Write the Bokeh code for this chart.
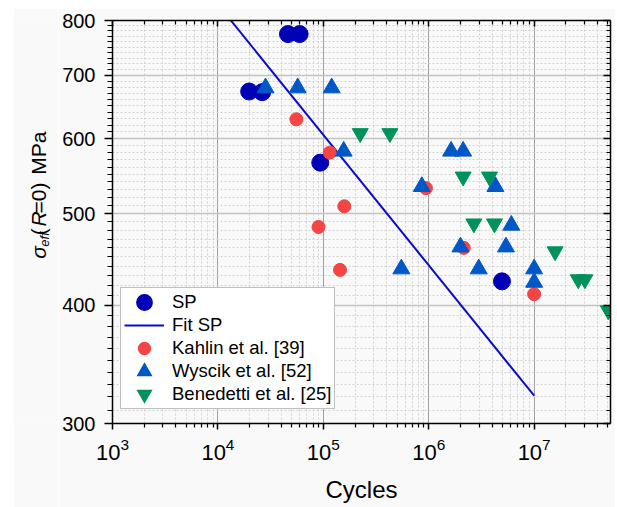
import math
from bokeh.plotting import figure
from bokeh.layouts import row, column
from bokeh.models import (LogAxis, FixedTicker, BasicTickFormatter, LogTickFormatter,
                          Legend, LegendItem, Label, Range1d, Spacer)
from bokeh.embed import file_html
from bokeh.resources import INLINE

# ---------------- data ----------------
sp_cycles = [4.62e4, 5.96e4, 1.98e4, 2.63e4, 9.35e4, 4.95e6]
sp_stress = [774, 774, 673, 672, 566, 424]

fit_cycles = [1.0e4, 1.0e7]
fit_stress = [832, 321]

kahlin_cycles = [5.55e4, 1.15e5, 9.4e5, 1.58e5, 9.0e4, 2.15e6, 1.44e5, 1.0e7]
kahlin_stress = [629, 580, 532, 509, 484, 460, 436, 411]

wyscik_cycles = [2.83e4, 5.71e4, 1.2e5, 1.56e5, 1.63e6, 2.12e6, 8.6e5, 4.29e6,
                 6.08e6, 2.0e6, 5.4e6, 5.5e5, 2.98e6, 1.0e7, 1.0e7]
wyscik_stress = [679, 679, 679, 582, 582, 582, 534, 534,
                 486, 461, 461, 437, 437, 437, 423]

benedetti_cycles = [2.24e5, 4.28e5, 2.12e6, 3.77e6, 2.68e6, 4.2e6, 1.58e7, 2.62e7, 3.03e7, 5.05e7]
benedetti_stress = [608, 608, 547, 547, 488, 488, 456, 426, 426, 395]

x_major_ticks = [1e3, 1e4, 1e5, 1e6, 1e7]
x_minor_ticks = [m * 10 ** e for e in range(3, 8) for m in range(2, 10)]
y_major_ticks = [300, 400, 500, 600, 700, 800]
y_minor_ticks = [v for v in range(310, 800, 10) if v % 100 != 0]

legend_labels = ["SP", "Fit SP", "Kahlin et al. [39]", "Wyscik et al. [52]", "Benedetti et al. [25]"]

# ---------------- style ----------------
FONT = "Liberation Sans"
BG = "#f9f9f9"
C_SP = "#0000b4"
C_FIT = "#0c0cc4"
C_KAH = "#f44444"
C_WYS = "#0058c8"
C_BEN = "#00925a"

H = 499  # figure heights (8 px white strip on top)

p = figure(width=557, height=H, x_axis_type="log", y_axis_type="log",
           x_range=Range1d(1e3, 5.3e7), y_range=Range1d(300, 800),
           output_backend="svg", toolbar_location=None,
           min_border_left=54, min_border_right=5, min_border_top=12, min_border_bottom=84,
           background_fill_color=BG, border_fill_color=BG, outline_line_color=None)

xt = FixedTicker(ticks=x_major_ticks, minor_ticks=x_minor_ticks)
yt = FixedTicker(ticks=y_major_ticks, minor_ticks=y_minor_ticks)

# bottom axis
xa = p.xaxis[0]
xa.ticker = xt
xa.formatter = LogTickFormatter()
xa.axis_label = "Cycles"
xa.axis_label_text_font = FONT
xa.axis_label_text_font_size = "24px"
xa.axis_label_text_font_style = "normal"
xa.axis_label_text_color = "black"
xa.axis_label_standoff = 13
xa.major_label_text_font = FONT
xa.major_label_text_font_size = "22px"
xa.major_label_text_color = "black"
xa.major_label_standoff = 8
xa.major_tick_out = 6
xa.major_tick_in = 0
xa.minor_tick_out = 4
xa.minor_tick_in = 0

# left axis
ya = p.yaxis[0]
ya.ticker = yt
ya.formatter = BasicTickFormatter()
ya.major_label_text_font = FONT
ya.major_label_text_font_size = "20px"
ya.major_label_text_color = "black"
ya.major_label_standoff = 9
ya.major_tick_out = 8
ya.major_tick_in = 0
ya.minor_tick_out = 5
ya.minor_tick_in = 0

for ax in (xa, ya):
    ax.axis_line_color = "black"
    ax.axis_line_width = 1.5
    ax.major_tick_line_color = "black"
    ax.major_tick_line_width = 1.5
    ax.minor_tick_line_color = "black"
    ax.minor_tick_line_width = 1.2

# mirror axes (top, right) with inward ticks
top_ax = LogAxis(ticker=xt, formatter=LogTickFormatter(), major_label_text_font_size="1px",
                 major_label_text_alpha=0, major_label_standoff=0,
                 major_tick_out=0, major_tick_in=6, minor_tick_out=0, minor_tick_in=4)
right_ax = LogAxis(ticker=yt, formatter=BasicTickFormatter(), major_label_text_font_size="1px",
                   major_label_text_alpha=0, major_label_standoff=0,
                   major_tick_out=0, major_tick_in=7, minor_tick_out=0, minor_tick_in=4)
for ax in (top_ax, right_ax):
    ax.axis_line_color = "black"
    ax.axis_line_width = 1.5
    ax.major_tick_line_color = "black"
    ax.major_tick_line_width = 1.5
    ax.minor_tick_line_color = "black"
    ax.minor_tick_line_width = 1.2
p.add_layout(top_ax, "above")
p.add_layout(right_ax, "right")

# grids
p.xgrid.ticker = xt
p.ygrid.ticker = yt
p.xgrid.grid_line_color = "#a0a0a0"
p.xgrid.grid_line_width = 1
p.ygrid.grid_line_color = "#c4c4c4"
p.ygrid.grid_line_width = 1.5
for g in (p.xgrid, p.ygrid):
    g.minor_grid_line_color = "#d2d2d2"
    g.minor_grid_line_dash = "2 2"
    g.minor_grid_line_width = 1

# data glyphs
r_sp = p.scatter(sp_cycles, sp_stress, marker="circle", size=17, color=C_SP)
r_fit = p.line(fit_cycles, fit_stress, line_color=C_FIT, line_width=2)
r_kah = p.scatter(kahlin_cycles, kahlin_stress, marker="circle", size=13, color=C_KAH)
r_wys = p.scatter(wyscik_cycles, wyscik_stress, marker="triangle", size=17, color=C_WYS)
r_ben = p.scatter(benedetti_cycles, benedetti_stress, marker="inverted_triangle", size=16, color=C_BEN)

# hidden legend-only renderers: thick outlines enlarge the legend symbols
def legend_proxy(xs, ys, marker, color, lw):
    r = p.scatter(xs, ys, marker=marker, size=8, fill_color=color,
                  line_color=color, line_width=lw, line_join="miter")
    r.visible = False
    return r

lg_sp = legend_proxy(sp_cycles, sp_stress, "circle", C_SP, 8)
lg_kah = legend_proxy(kahlin_cycles, kahlin_stress, "circle", C_KAH, 4.5)
lg_wys = legend_proxy(wyscik_cycles, wyscik_stress, "triangle", C_WYS, 4.2)
lg_ben = legend_proxy(benedetti_cycles, benedetti_stress, "inverted_triangle", C_BEN, 4.2)

legend = Legend(
    items=[LegendItem(label=lab, renderers=[r]) for lab, r in
           zip(legend_labels, [lg_sp, r_fit, lg_kah, lg_wys, lg_ben])],
    location=(8, 14), glyph_width=40, glyph_height=22, label_height=22,
    spacing=1, padding=3, label_standoff=8, margin=0,
    label_text_font=FONT, label_text_font_size="18.5px", label_text_color="black",
    border_line_color="#808080", border_line_width=1,
    background_fill_color="white", background_fill_alpha=1.0,
    inactive_fill_alpha=0.0)
p.add_layout(legend)

# ---------------- y-axis title strip (sigma with subscript "eff") ----------------
LW = 45
q = figure(width=LW, height=H, x_range=Range1d(0, LW), y_range=Range1d(0, H),
           output_backend="svg", toolbar_location=None,
           min_border=0, min_border_left=0, min_border_right=0, min_border_top=0, min_border_bottom=0,
           background_fill_color=BG, border_fill_color=BG, outline_line_color=None)
q.axis.visible = False
q.grid.visible = False

ylab = [
    ("σ", 25, 204, "21px", "italic"),
    ("eff", 31, 219, "13px", "italic"),
    ("(", 25, 233, "21px", "normal"),
    ("R", 25, 244, "21px", "italic"),
    ("=0)", 25, 260, "21px", "normal"),
    ("MPa", 25, 308, "21px", "normal"),
]
for txt, xs, ys, fs, st in ylab:
    q.add_layout(Label(x=xs, y=ys, text=txt, angle=math.pi / 2,
                       text_font=FONT, text_font_size=fs,
                       text_font_style=st, text_color="black",
                       text_align="left", text_baseline="alphabetic"))

layout = column(Spacer(width=617, height=8),
                row(Spacer(width=13, height=H), q, p))

open("out.html", "w").write(file_html(layout, INLINE))
